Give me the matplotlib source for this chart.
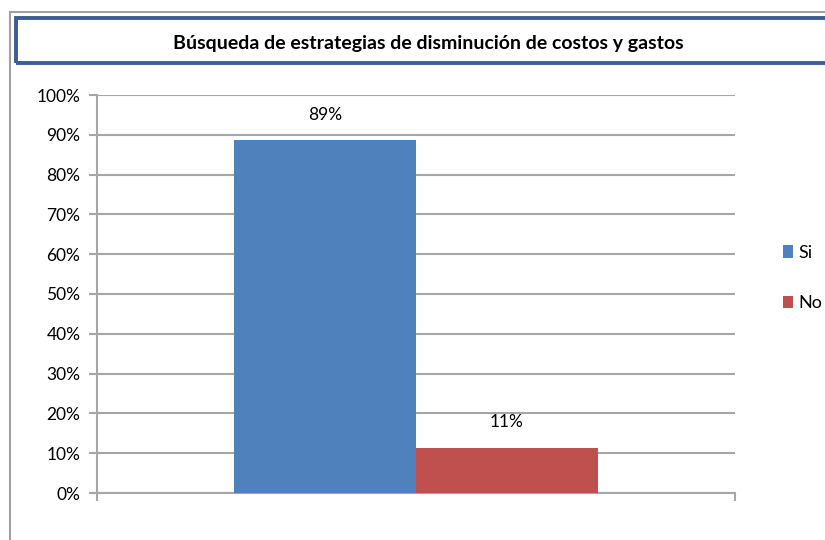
import matplotlib.pyplot as plt
from matplotlib.patches import Rectangle
from matplotlib.lines import Line2D

# datos
categorias = ["Si", "No"]
valores = [0.886, 0.114]
etiquetas = ["89%", "11%"]
colores = ["#4f81bd", "#c0504d"]
ticks_y = [0, 0.1, 0.2, 0.3, 0.4, 0.5, 0.6, 0.7, 0.8, 0.9, 1.0]
titulo = "Búsqueda de estrategias de disminución de costos y gastos"

plt.rcParams['font.family'] = ['Lato', 'DejaVu Sans']

fig = plt.figure(figsize=(8.25, 5.4), dpi=100)

# marco exterior gris (arriba e izquierda)
fig.add_artist(Line2D([10/825, 1], [1 - 12/540, 1 - 12/540], color='#a0a0a0', lw=1.5))
fig.add_artist(Line2D([10/825, 10/825], [0, 1 - 12/540], color='#a0a0a0', lw=1.5))

# caja del titulo
fig.add_artist(Rectangle((16/825, 1 - 63/540), 1.0, 45/540, fill=False,
                         edgecolor='#3c5f8e', lw=2.8, transform=fig.transFigure))
fig.text(428/825, 1 - 44/540, titulo, ha='center', va='center',
         fontsize=14, fontweight='bold', color='black')

ax = fig.add_axes([97/825, 47/540, 638/825, 398/540])

ancho = 0.285
centro = 0.5
for i, (cat, v, lab, c) in enumerate(zip(categorias, valores, etiquetas, colores)):
    x = centro + (i - 0.5) * ancho
    ax.bar(x, v, width=ancho, color=c, label=cat, zorder=3)
    ax.text(x, v + 0.064, lab, ha='center', va='center', fontsize=12.5)

ax.set_xlim(0, 1)
ax.set_ylim(0, 1)
ax.set_yticks(ticks_y)
ax.set_yticklabels([f"{int(round(t*100))}%" for t in ticks_y], fontsize=12.5)
ax.set_xticks([0, 1])
ax.set_xticklabels([])
ax.grid(axis='y', color='#a6a6a6', lw=1.5, zorder=0)
for s in ['top', 'right']:
    ax.spines[s].set_visible(False)
ax.spines['left'].set_color('#a6a6a6')
ax.spines['bottom'].set_color('#a6a6a6')
ax.spines['left'].set_linewidth(1.5)
ax.spines['bottom'].set_linewidth(1.5)
ax.tick_params(axis='both', color='#a6a6a6', width=1.5, length=6)
ax.tick_params(axis='y', pad=6)

leg = ax.legend(loc='center left', bbox_to_anchor=(1.05, 0.54), frameon=False,
                fontsize=13, handlelength=0.55, handleheight=0.7, handletextpad=0.3,
                labelspacing=1.9)

fig.savefig("out.png", dpi=100)
